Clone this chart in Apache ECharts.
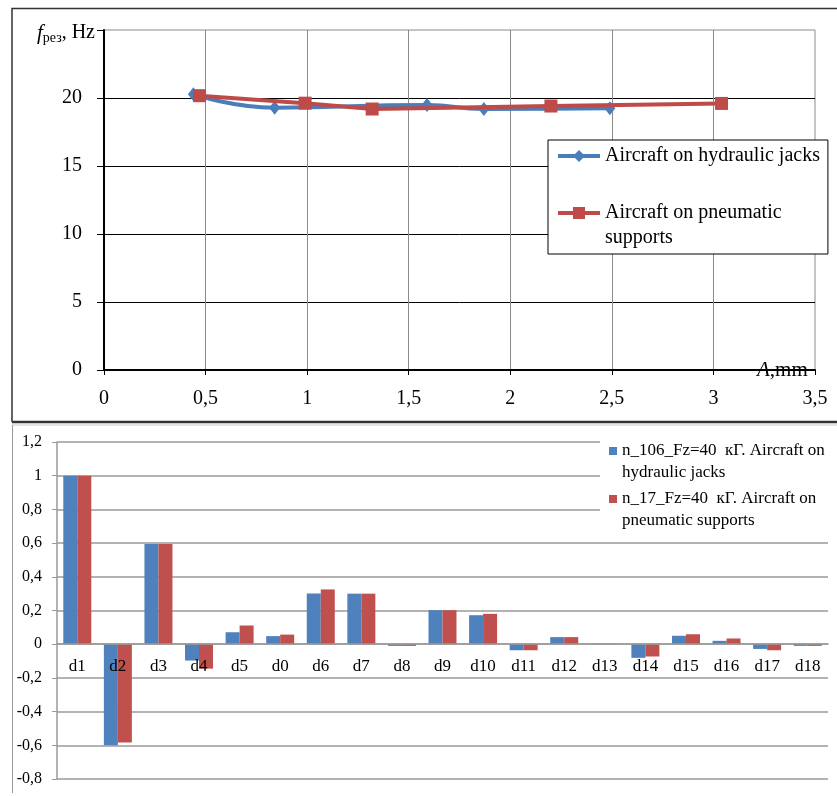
<!DOCTYPE html>
<html>
<head>
<meta charset="utf-8">
<script src="https://cdn.jsdelivr.net/npm/echarts@6/dist/echarts.min.js"></script>
<style>
  html, body { margin: 0; padding: 0; background: #fff; }
  #main { width: 837px; height: 796px; }
</style>
</head>
<body>
<div id="main"></div>
<script>
// top chart: resonance frequency vs amplitude
var ampJacks = [0.44, 0.84, 1.59, 1.87, 2.49];
var freqJacks = [20.27, 19.29, 19.48, 19.19, 19.25];
var ampPneu = [0.47, 0.99, 1.32, 2.20, 3.04];
var freqPneu = [20.17, 19.62, 19.19, 19.41, 19.60];

// bottom chart: normalized coefficients
var categories = ['d1', 'd2', 'd3', 'd4', 'd5', 'd0', 'd6', 'd7', 'd8', 'd9',
    'd10', 'd11', 'd12', 'd13', 'd14', 'd15', 'd16', 'd17', 'd18'];
var coefJacks = [1.0, -0.60, 0.595, -0.097, 0.071, 0.048, 0.301, 0.30, -0.01, 0.202,
    0.172, -0.036, 0.042, 0.002, -0.081, 0.05, 0.02, -0.028, -0.01];
var coefPneu = [1.0, -0.584, 0.595, -0.145, 0.111, 0.057, 0.325, 0.30, -0.01, 0.202,
    0.18, -0.036, 0.042, 0.002, -0.073, 0.059, 0.034, -0.036, -0.01];

var serif = "'Liberation Serif', 'DejaVu Serif', serif";
var nameJacks = 'Aircraft on hydraulic jacks';
var namePneu = 'Aircraft on pneumatic supports';
var barJacks = 'n_106_Fz=40  кГ. Aircraft on hydraulic jacks';
var barPneu = 'n_17_Fz=40  кГ. Aircraft on pneumatic supports';

function comma(v) {
    return String(parseFloat(v.toFixed(2))).replace('.', ',');
}
function pairs(xs, ys) {
    return xs.map(function (x, i) { return [x, ys[i]]; });
}

var mychart = echarts.init(document.getElementById('main'));

var option = {
    animation: false,
    textStyle: { fontFamily: serif },
    grid: [
        { left: 104, top: 30, width: 711, height: 340, show: true, borderColor: '#8a8a8a', borderWidth: 1 },
        { left: 57, top: 442, right: 9, bottom: 17 }
    ],
    legend: [
        {
            data: [nameJacks, namePneu],
            orient: 'vertical',
            left: 548, top: 140,
            padding: [3.5, 8, 3.5, 8],
            itemGap: 7,
            itemWidth: 42, itemHeight: 15,
            backgroundColor: '#fff',
            borderColor: '#000', borderWidth: 1,
            lineStyle: { width: 4 },
            // blank first line keeps the icon level with the first text line
            formatter: function (n) {
                return n === namePneu ? '\n' + n.replace(' supports', '\nsupports') : n;
            },
            textStyle: { fontFamily: serif, fontSize: 20, lineHeight: 25, color: '#000' }
        },
        {
            data: [barJacks, barPneu],
            orient: 'vertical',
            left: 600, top: 418,
            padding: [0, 4, 0, 9],
            itemGap: -18,
            itemWidth: 8, itemHeight: 8,
            icon: 'rect',
            backgroundColor: '#fff',
            formatter: function (n) {
                return '\n' + n.replace(' hydraulic', '\nhydraulic').replace(' pneumatic', '\npneumatic');
            },
            textStyle: { fontFamily: serif, fontSize: 17, lineHeight: 22, color: '#000' }
        }
    ],
    xAxis: [
        {
            type: 'value', gridIndex: 0,
            min: 0, max: 3.5, interval: 0.5,
            name: '{i|A}{n|,mm}',
            nameLocation: 'end',
            nameGap: -64,
            nameTextStyle: {
                backgroundColor: '#fff',
                padding: [2, 0, 2, 6],
                rich: {
                    i: { fontFamily: serif, fontSize: 21, fontStyle: 'italic', color: '#000' },
                    n: { fontFamily: serif, fontSize: 21, color: '#000' }
                }
            },
            axisLine: { lineStyle: { color: '#000', width: 2 } },
            axisTick: { length: 5, lineStyle: { color: '#000' } },
            axisLabel: { fontFamily: serif, fontSize: 20, color: '#000', margin: 19, formatter: comma },
            splitLine: { show: true, showMaxLine: false, lineStyle: { color: '#8a8a8a', width: 1 } }
        },
        {
            type: 'category', gridIndex: 1,
            data: categories,
            position: 'bottom',
            z: 5,
            // pull the category axis up to the zero line
            offset: -134.8,
            axisLine: { onZero: false, lineStyle: { color: '#9a9a9a', width: 1.5 } },
            axisTick: { show: false },
            axisLabel: { fontFamily: serif, fontSize: 17, color: '#000', margin: 14, interval: 0 }
        }
    ],
    yAxis: [
        {
            type: 'value', gridIndex: 0,
            min: 0, max: 25, interval: 5,
            name: '{i|f}{s|рез}{n|, Hz}',
            nameLocation: 'end',
            nameGap: -3,
            nameTextStyle: {
                align: 'right',
                verticalAlign: 'middle',
                padding: [0, 9, 0, 0],
                rich: {
                    i: { fontFamily: serif, fontSize: 21, fontStyle: 'italic', lineHeight: 24, verticalAlign: 'middle', color: '#000' },
                    s: { fontFamily: serif, fontSize: 14, lineHeight: 14, verticalAlign: 'bottom', color: '#000' },
                    n: { fontFamily: serif, fontSize: 20, lineHeight: 24, verticalAlign: 'middle', color: '#000' }
                }
            },
            axisLine: { show: true, lineStyle: { color: '#000', width: 2 } },
            axisTick: { show: true, length: 7, lineStyle: { color: '#000' } },
            axisLabel: {
                fontFamily: serif, fontSize: 20, color: '#000', margin: 22,
                formatter: function (v) { return v === 25 ? '' : comma(v); }
            },
            splitLine: { show: true, showMaxLine: false, lineStyle: { color: '#000', width: 1 } }
        },
        {
            type: 'value', gridIndex: 1,
            min: -0.8, max: 1.2, interval: 0.2,
            axisLine: { show: true, onZero: false, lineStyle: { color: '#9a9a9a', width: 1.5 } },
            axisTick: { show: true, length: 5, lineStyle: { color: '#9a9a9a' } },
            axisLabel: { fontFamily: serif, fontSize: 16, color: '#000', margin: 15, formatter: comma },
            splitLine: { show: true, lineStyle: { color: '#9a9a9a', width: 1.5 } }
        }
    ],
    series: [
        {
            name: nameJacks,
            type: 'line',
            xAxisIndex: 0, yAxisIndex: 0,
            data: pairs(ampJacks, freqJacks),
            smooth: 0.5,
            symbol: 'diamond',
            symbolSize: [11, 14],
            color: '#4a7ebb',
            lineStyle: { width: 4, color: '#4a7ebb' },
            itemStyle: { color: '#4a7ebb' },
            z: 2
        },
        {
            name: namePneu,
            type: 'line',
            xAxisIndex: 0, yAxisIndex: 0,
            data: pairs(ampPneu, freqPneu),
            symbol: 'rect',
            symbolSize: 13,
            color: '#be4b48',
            lineStyle: { width: 4, color: '#be4b48' },
            itemStyle: { color: '#be4b48' },
            z: 3
        },
        {
            name: barJacks,
            type: 'bar',
            xAxisIndex: 1, yAxisIndex: 1,
            data: coefJacks,
            barGap: '0%',
            barCategoryGap: '31%',
            itemStyle: { color: '#4f81bd' }
        },
        {
            name: barPneu,
            type: 'bar',
            xAxisIndex: 1, yAxisIndex: 1,
            data: coefPneu,
            barGap: '0%',
            barCategoryGap: '31%',
            itemStyle: { color: '#c0504d' }
        }
    ],
    // frames round the two pictures
    graphic: [
        { type: 'polyline', z: 100, shape: { points: [[12, 422], [12, 8.5], [837, 8.5]] }, style: { stroke: '#333', lineWidth: 1.5, fill: null } },
        { type: 'line', z: 100, shape: { x1: 12, y1: 422, x2: 837, y2: 422 }, style: { stroke: '#333', lineWidth: 2.5 } },
        { type: 'line', z: 100, shape: { x1: 12, y1: 425, x2: 837, y2: 425 }, style: { stroke: '#c8c8c8', lineWidth: 1 } },
        { type: 'line', z: 100, shape: { x1: 12.5, y1: 425, x2: 12.5, y2: 793 }, style: { stroke: '#9a9a9a', lineWidth: 1 } }
    ]
};
mychart.setOption(option);
</script>
</body>
</html>
